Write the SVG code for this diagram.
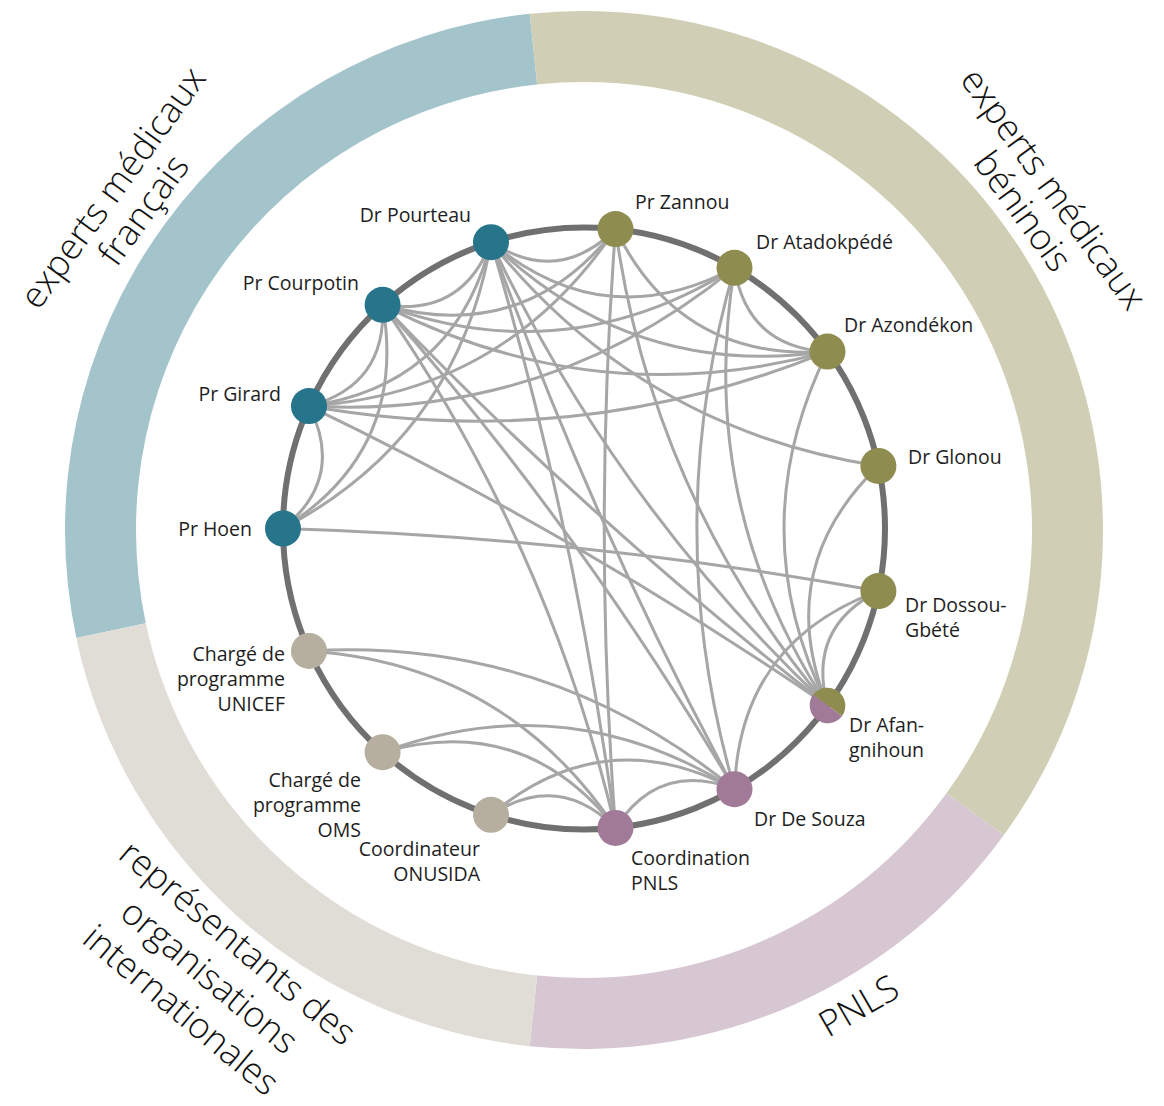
<svg xmlns="http://www.w3.org/2000/svg" width="1164" height="1106" viewBox="0 0 1164 1106">
<style>
.ring{stroke:none}
.e{fill:none;stroke:#a6a6a6;stroke-width:3}
.lbl{font-family:"Open Sans","Noto Sans","DejaVu Sans",sans-serif;font-size:19.5px;fill:#1e1e1e}
.end{text-anchor:end}
.grp{font-family:"Open Sans","Noto Sans","DejaVu Sans",sans-serif;font-size:36px;font-weight:300;fill:#111;text-anchor:middle}
.fr{fill:#26758a}
.bn{fill:#8f8c50}
.pn{fill:#a07a97}
.io{fill:#b6ae9e}
</style>
<rect width="1164" height="1106" fill="#ffffff"/>
<g id="ring">
<path class="ring" fill="#a4c4cc" d="M76.34,637.91 A519,519 0 0 1 529.75,13.85 L537.17,84.46 A448,448 0 0 0 145.79,623.14 Z"/>
<path class="ring" fill="#d0cfb5" d="M529.75,13.85 A519,519 0 0 1 1003.88,835.06 L946.44,793.33 A448,448 0 0 0 537.17,84.46 Z"/>
<path class="ring" fill="#d7c7d3" d="M1003.88,835.06 A519,519 0 0 1 529.75,1046.15 L537.17,975.54 A448,448 0 0 0 946.44,793.33 Z"/>
<path class="ring" fill="#e0ddd6" d="M529.75,1046.15 A519,519 0 0 1 76.34,637.91 L145.79,623.14 A448,448 0 0 0 537.17,975.54 Z"/>
</g>
<g id="group-labels">
<text class="grp" transform="translate(153.6,217.2) rotate(-54)"><tspan x="0" y="-38">experts médicaux</tspan><tspan x="0" y="0">français</tspan></text>
<text class="grp" transform="translate(1012.8,218.5) rotate(54)"><tspan x="0" y="-38">experts médicaux</tspan><tspan x="0" y="0">béninois</tspan></text>
<text class="grp" transform="translate(865,1016.7) rotate(-30)">PNLS</text>
<text class="grp" transform="translate(229.8,952.1) rotate(40)"><tspan x="0" y="0">représentants des</tspan><tspan x="0" y="44">organisations</tspan><tspan x="0" y="88">internationales</tspan></text>
</g>
<circle id="main-circle" cx="584" cy="528.5" r="301" fill="none" stroke="#707070" stroke-width="6"/>
<g id="connectors">
<path class="e" d="M491,242.2 Q558.5,286 615.5,229.1"/>
<path class="e" d="M491,242.2 Q462.1,317.4 382.6,304.8"/>
<path class="e" d="M491,242.2 Q455.1,385.4 309,406.1"/>
<path class="e" d="M491,242.2 Q457.4,436.5 283,528.5"/>
<path class="e" d="M491,242.2 Q604.1,337 734.5,267.8"/>
<path class="e" d="M491,242.2 Q632.4,379.7 827.5,351.6"/>
<path class="e" d="M491,242.2 Q641.2,429.4 878.4,465.9"/>
<path class="e" d="M491,242.2 Q615.6,505.5 827.5,705.4"/>
<path class="e" d="M491,242.2 Q592.2,524.8 734.5,789.2"/>
<path class="e" d="M491,242.2 Q575.2,526.6 615.5,827.9"/>
<path class="e" d="M382.6,304.8 Q386.8,385.2 309,406.1"/>
<path class="e" d="M382.6,304.8 Q408.1,450.2 283,528.5"/>
<path class="e" d="M382.6,304.8 Q524.5,345.3 615.5,229.1"/>
<path class="e" d="M382.6,304.8 Q567.6,372.9 734.5,267.8"/>
<path class="e" d="M382.6,304.8 Q596,414.7 827.5,351.6"/>
<path class="e" d="M382.6,304.8 Q590,521.8 827.5,705.4"/>
<path class="e" d="M382.6,304.8 Q576.7,523.2 734.5,789.2"/>
<path class="e" d="M382.6,304.8 Q548.3,544.4 615.5,827.9"/>
<path class="e" d="M309,406.1 Q345.5,477.8 283,528.5"/>
<path class="e" d="M309,406.1 Q505.8,393 615.5,229.1"/>
<path class="e" d="M309,406.1 Q548.7,419.7 734.5,267.8"/>
<path class="e" d="M309,406.1 Q576.1,453.6 827.5,351.6"/>
<path class="e" d="M309,406.1 Q579.5,536.3 827.5,705.4"/>
<path class="e" d="M283,528.5 Q583.1,537.5 878.4,591.1"/>
<path class="e" d="M615.5,229.1 Q680.3,361.7 827.5,351.6"/>
<path class="e" d="M615.5,229.1 Q652.8,497.9 827.5,705.4"/>
<path class="e" d="M615.5,229.1 Q593,528.5 615.5,827.9"/>
<path class="e" d="M734.5,267.8 Q747.1,347.3 827.5,351.6"/>
<path class="e" d="M734.5,267.8 Q695.9,504.7 827.5,705.4"/>
<path class="e" d="M734.5,267.8 Q659.3,528.5 734.5,789.2"/>
<path class="e" d="M827.5,351.6 Q740.5,528.5 827.5,705.4"/>
<path class="e" d="M878.4,465.9 Q772.4,568.5 827.5,705.4"/>
<path class="e" d="M878.4,591.1 Q806.7,627.7 827.5,705.4"/>
<path class="e" d="M878.4,591.1 Q739.8,641.7 734.5,789.2"/>
<path class="e" d="M734.5,789.2 Q659.3,760.4 615.5,827.9"/>
<path class="e" d="M734.5,789.2 Q604.1,720 491,814.8"/>
<path class="e" d="M734.5,789.2 Q567.6,684.1 382.6,752.2"/>
<path class="e" d="M734.5,789.2 Q548.7,637.3 309,650.9"/>
<path class="e" d="M615.5,827.9 Q558.5,771 491,814.8"/>
<path class="e" d="M615.5,827.9 Q524.5,711.7 382.6,752.2"/>
<path class="e" d="M615.5,827.9 Q505.8,664 309,650.9"/>
</g>
<g id="n-zannou"><circle class="bn" cx="615.5" cy="229.1" r="18"/><text class="lbl" x="635" y="209">Pr Zannou</text></g>
<g id="n-atadokpede"><circle class="bn" cx="734.5" cy="267.8" r="18"/><text class="lbl" x="756" y="249">Dr Atadokpédé</text></g>
<g id="n-azondekon"><circle class="bn" cx="827.5" cy="351.6" r="18"/><text class="lbl" x="844" y="332">Dr Azondékon</text></g>
<g id="n-glonou"><circle class="bn" cx="878.4" cy="465.9" r="18"/><text class="lbl" x="908" y="464">Dr Glonou</text></g>
<g id="n-dossou"><circle class="bn" cx="878.4" cy="591.1" r="18"/><text class="lbl" x="905" y="612"><tspan x="905">Dr Dossou-</tspan><tspan x="905" dy="25">Gbété</tspan></text></g>
<g id="n-afangnihoun"><path class="bn" d="M812.96,694.84 A18,18 0 0 1 842.08,716 Z"/><path class="pn" d="M812.96,694.84 A18,18 0 0 0 842.08,716 Z"/><text class="lbl" x="849" y="732"><tspan x="849">Dr Afan-</tspan><tspan x="849" dy="25">gnihoun</tspan></text></g>
<g id="n-desouza"><circle class="pn" cx="734.5" cy="789.2" r="18"/><text class="lbl" x="754" y="826">Dr De Souza</text></g>
<g id="n-pnls"><circle class="pn" cx="615.5" cy="827.9" r="18"/><text class="lbl" x="631" y="865"><tspan x="631">Coordination</tspan><tspan x="631" dy="25">PNLS</tspan></text></g>
<g id="n-onusida"><circle class="io" cx="491" cy="814.8" r="18"/><text class="lbl end" x="480" y="856"><tspan x="480">Coordinateur</tspan><tspan x="480" dy="25">ONUSIDA</tspan></text></g>
<g id="n-oms"><circle class="io" cx="382.6" cy="752.2" r="18"/><text class="lbl end" x="361" y="787"><tspan x="361">Chargé de</tspan><tspan x="361" dy="25">programme</tspan><tspan x="361" dy="25">OMS</tspan></text></g>
<g id="n-unicef"><circle class="io" cx="309" cy="650.9" r="18"/><text class="lbl end" x="285" y="661"><tspan x="285">Chargé de</tspan><tspan x="285" dy="25">programme</tspan><tspan x="285" dy="25">UNICEF</tspan></text></g>
<g id="n-hoen"><circle class="fr" cx="283" cy="528.5" r="18"/><text class="lbl end" x="252" y="536">Pr Hoen</text></g>
<g id="n-girard"><circle class="fr" cx="309" cy="406.1" r="18"/><text class="lbl end" x="281" y="401">Pr Girard</text></g>
<g id="n-courpotin"><circle class="fr" cx="382.6" cy="304.8" r="18"/><text class="lbl end" x="359" y="290">Pr Courpotin</text></g>
<g id="n-pourteau"><circle class="fr" cx="491" cy="242.2" r="18"/><text class="lbl end" x="471" y="222">Dr Pourteau</text></g>
</svg>
